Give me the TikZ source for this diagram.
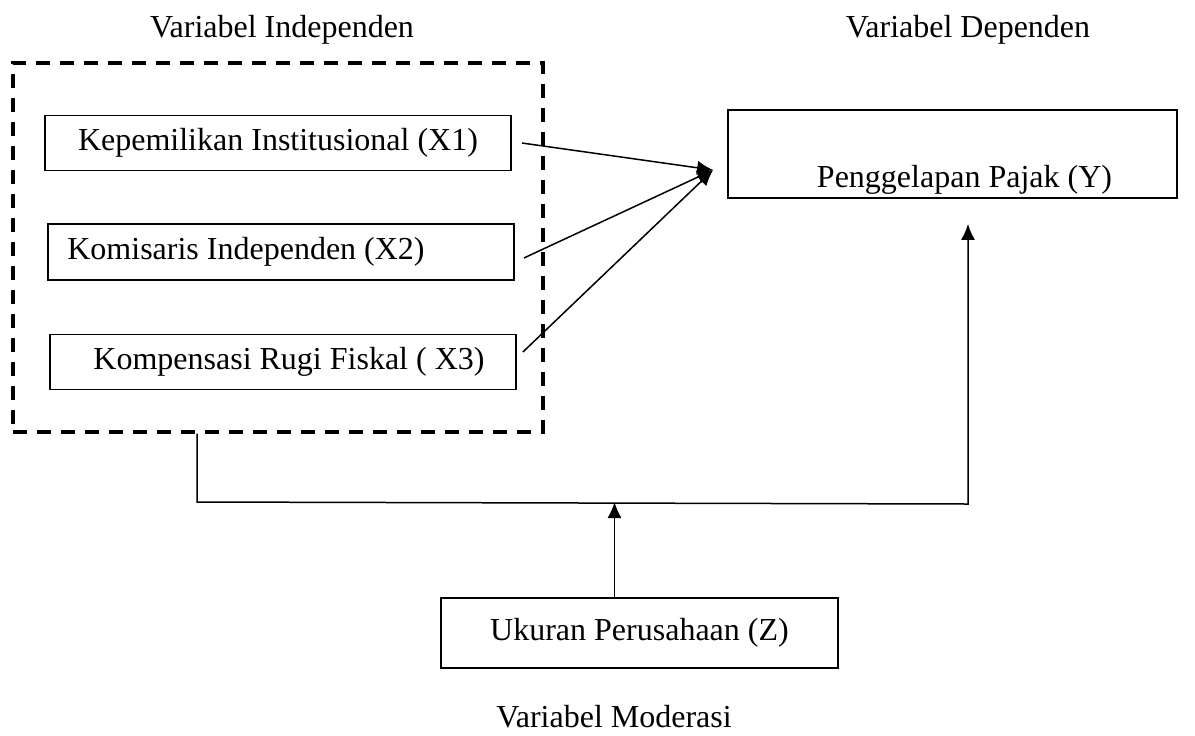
\documentclass[tikz,border=0pt]{standalone}
\usepackage{fontspec}
\setmainfont{Liberation Serif}
\usetikzlibrary{arrows.meta}
\tikzset{
  varbox/.style={rectangle, draw, line width=0.9pt, minimum width=233pt, minimum height=27.5pt, inner sep=0pt, font=\fontsize{16}{19}\selectfont},
  depbox/.style={rectangle, draw, line width=0.9pt, minimum width=224.5pt, inner xsep=0pt, inner ysep=0pt, text height=38.5pt, text depth=5.5pt, font=\fontsize{16}{19}\selectfont},
  groupbox/.style={rectangle, draw, line width=1.7pt, dash pattern=on 7pt off 5pt, minimum width=265pt, minimum height=184.5pt},
  caption/.style={font=\fontsize{16}{19}\selectfont},
  fwd/.style={->, line width=0.75pt, >={Latex[length=8pt,width=7pt]}},
}
\begin{document}
\begin{tikzpicture}[x=0.5pt, y=-0.5pt]
  \useasboundingbox (0,0) rectangle (1195,735);

  \node[groupbox] (group) at (278,247.5) {};
  \node[varbox] (var1) at (278,143) {Kepemilikan Institusional (X1)};
  \node[varbox, minimum height=28pt] (var2) at (281,252) {Komisaris Independen (X2)\hspace*{35pt}};
  \node[varbox] (var3) at (283,362) {\hspace*{6pt}Kompensasi Rugi Fiskal ( X3)};
  \node[depbox] (dep) at (952.5,154) {\hspace*{12pt}Penggelapan Pajak (Y)};
  \node[varbox, minimum width=198.5pt, minimum height=35pt] (mod) at (639.5,633) {Ukuran Perusahaan (Z)};

  \node[caption] (lblind) at (282,30) {Variabel Independen};
  \node[caption] (lbldep) at (968,30) {Variabel Dependen};
  \node[caption] (lblmod) at (614,717) {Variabel Moderasi};

  \coordinate (meet) at ([xshift=-7pt,yshift=-8pt]dep.west);
  \draw[fwd] ([xshift=5pt]var1.east) -- (meet);
  \draw[fwd] ([xshift=4.5pt,yshift=-3pt]var2.east) -- (meet);
  \draw[fwd] ([xshift=3pt,yshift=5pt]var3.east) -- (meet);

  \coordinate (bend1) at (197,502);
  \coordinate (bend2) at (968,504);
  \draw[fwd, shorten >=12.5pt] (bend1 |- group.south) -- (bend1) -- (bend2) -- (bend2 |- dep.south);

  \coordinate (modtop) at ([xshift=-12.5pt]mod.north);
  \draw[fwd] (modtop) -- (modtop |- bend1);
\end{tikzpicture}
\end{document}
